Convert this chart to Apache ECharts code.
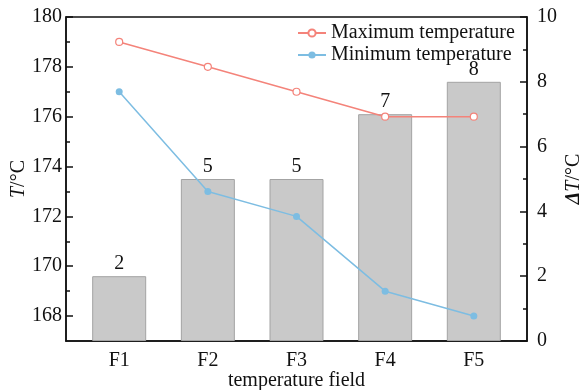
<!DOCTYPE html>
<html lang="en">
  <head>
    <meta charset="UTF-8" />
    <title>Temperature field</title>
    <script src="https://cdn.jsdelivr.net/npm/echarts@6.0.0/dist/echarts.min.js"></script>
  </head>

  <body style="margin: 0">
    <div id="main" style="width: 580px; height: 390px"></div>

    <script type="text/javascript">
      // data
      const categories = ["F1", "F2", "F3", "F4", "F5"];
      const maxTemp = [179, 178, 177, 176, 176];
      const minTemp = [177, 173, 172, 169, 168];
      const deltaT = [2, 5, 5, 7, 8];
      const leftTicks = [168, 170, 172, 174, 176, 178, 180];
      const leftMinorTicks = [169, 171, 173, 175, 177, 179];
      const xPositions = [1, 2, 3, 4, 5];

      const font = "Liberation Serif";
      const black = "#111";

      // pair each value with its x position on the value axis
      const toPoints = (arr) => arr.map((v, i) => [xPositions[i], v]);

      let myChart = echarts.init(document.getElementById("main"));

      let options = {
        animation: false,
        textStyle: { fontFamily: font, color: black },
        grid: {
          left: 66,
          right: 53,
          top: 17,
          bottom: 49,
          containLabel: false,
          outerBoundsMode: "none",
          show: true,
          borderColor: black,
          borderWidth: 1.5,
        },
        legend: {
          orient: "vertical",
          left: 292,
          top: 18,
          itemWidth: 28,
          itemHeight: 9,
          itemGap: 2,
          textStyle: { fontFamily: font, fontSize: 20, color: black },
          data: ["Maximum temperature", "Minimum temperature"],
        },
        xAxis: {
          type: "value",
          min: 0.4,
          max: 5.6,
          name: "temperature field",
          nameLocation: "middle",
          nameGap: 30,
          nameMoveOverlap: false,
          nameTextStyle: { fontFamily: font, fontSize: 20, color: black },
          splitLine: { show: false },
          axisLine: { lineStyle: { color: black, width: 1.5 } },
          axisTick: {
            customValues: xPositions,
            inside: true,
            length: 7,
            lineStyle: { color: black, width: 1.5 },
          },
          axisLabel: {
            customValues: xPositions,
            formatter: (v) => categories[Math.round(v) - 1],
            fontFamily: font,
            fontSize: 20,
            color: black,
            margin: 10,
          },
        },
        yAxis: [
          {
            type: "value",
            position: "left",
            min: 167,
            max: 180,
            name: "{i|T}/°C",
            nameLocation: "middle",
            nameGap: 37,
            nameMoveOverlap: false,
            nameTextStyle: {
              fontFamily: font,
              fontSize: 20,
              color: black,
              rich: { i: { fontStyle: "italic", fontFamily: font, fontSize: 20 } },
            },
            splitLine: { show: false },
            axisLine: { show: true, lineStyle: { color: black, width: 1.5 } },
            axisTick: {
              customValues: leftTicks,
              inside: true,
              length: 7,
              lineStyle: { color: black, width: 1.5 },
            },
            axisLabel: {
              customValues: leftTicks,
              fontFamily: font,
              fontSize: 20,
              color: black,
              margin: 4,
            },
          },
          {
            type: "value",
            position: "right",
            min: 0,
            max: 10,
            interval: 2,
            name: "{b|Δ}{i|T}/°C",
            nameLocation: "middle",
            nameGap: 37,
            nameMoveOverlap: false,
            nameTextStyle: {
              fontFamily: font,
              fontSize: 20,
              color: black,
              rich: {
                i: { fontStyle: "italic", fontFamily: font, fontSize: 20 },
                b: { fontStyle: "italic", fontWeight: "bold", fontFamily: font, fontSize: 20 },
              },
            },
            splitLine: { show: false },
            axisLine: { show: true, lineStyle: { color: black, width: 1.5 } },
            axisTick: {
              inside: true,
              length: 7,
              lineStyle: { color: black, width: 1.5 },
            },
            minorTick: {
              show: true,
              splitNumber: 2,
              length: 4,
              lineStyle: { color: black, width: 1.5 },
            },
            axisLabel: { fontFamily: font, fontSize: 20, color: black, margin: 10 },
          },
          {
            // overlay only for the short ticks between the left labels
            type: "value",
            position: "left",
            min: 167,
            max: 180,
            axisLine: { show: false },
            splitLine: { show: false },
            axisLabel: { show: false },
            axisTick: {
              customValues: leftMinorTicks,
              inside: true,
              length: 4,
              lineStyle: { color: black, width: 1.5 },
            },
          },
        ],
        series: [
          {
            name: "ΔT",
            type: "bar",
            yAxisIndex: 1,
            barWidth: 54,
            data: toPoints(deltaT),
            itemStyle: { color: "#c9c9c9", borderColor: "#a3a3a3", borderWidth: 1 },
            label: {
              show: true,
              position: "top",
              distance: 2,
              fontFamily: font,
              fontSize: 20,
              color: black,
              formatter: (p) => p.value[1],
            },
            z: 1,
          },
          {
            name: "Maximum temperature",
            type: "line",
            yAxisIndex: 0,
            data: toPoints(maxTemp),
            symbol: "circle",
            symbolSize: 7,
            lineStyle: { color: "#f4837a", width: 1.5 },
            itemStyle: { color: "#fff", borderColor: "#f4837a", borderWidth: 1.2 },
            z: 3,
          },
          {
            name: "Minimum temperature",
            type: "line",
            yAxisIndex: 0,
            data: toPoints(minTemp),
            symbol: "circle",
            symbolSize: 7,
            lineStyle: { color: "#7dbde2", width: 1.5 },
            itemStyle: { color: "#7dbde2" },
            z: 3,
          },
        ],
      };

      myChart.setOption(options);
    </script>
  </body>
</html>
